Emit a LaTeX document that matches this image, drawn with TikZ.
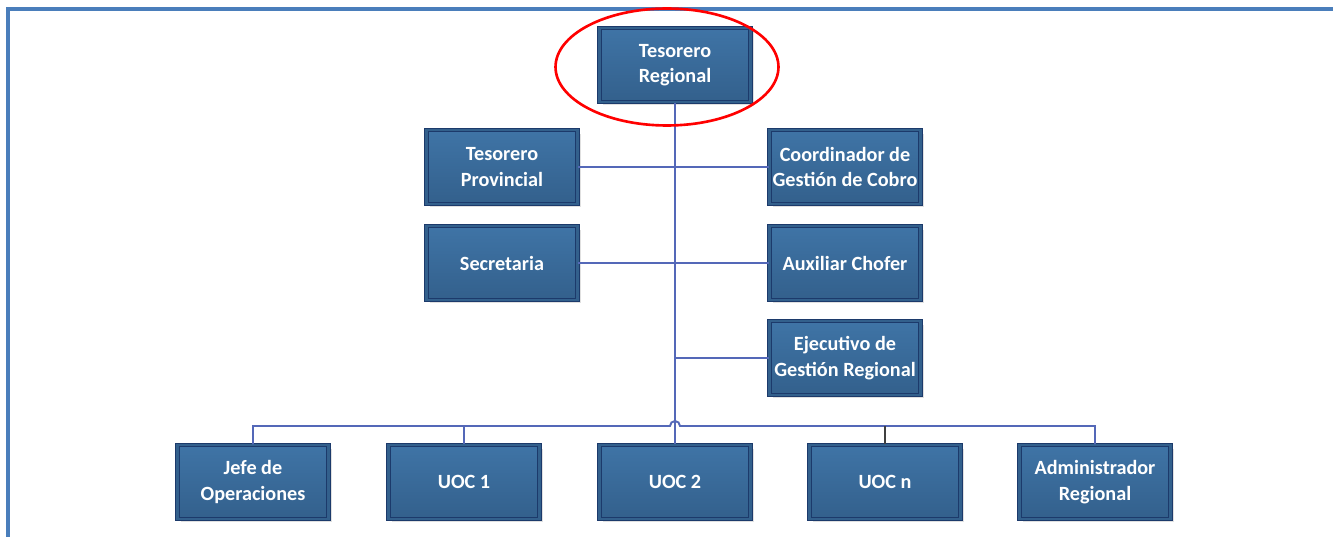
\documentclass[tikz,border=0pt]{standalone}
\usepackage{fontspec}
\setmainfont{Carlito}
\usetikzlibrary{shapes.geometric,shadows}
\definecolor{boxtop}{HTML}{3F74A6}
\definecolor{boxbot}{HTML}{33608C}
\definecolor{boxedge}{HTML}{1C3A6B}
\definecolor{linkblue}{HTML}{5468B8}
\definecolor{framecol}{HTML}{4A7EBB}
\begin{document}
\begin{tikzpicture}[x=0.02cm,y=-0.02cm,
  post/.style={draw=boxedge,line width=0.6pt,double=boxbot,double distance=1.6pt,
    top color=boxtop,bottom color=boxbot,minimum width=3.02cm,minimum height=1.48cm,
    inner xsep=1pt,align=center,text=white,font=\bfseries\fontsize{11.5}{14.5}\selectfont,
    drop shadow={shadow xshift=0.07cm,shadow yshift=-0.07cm,fill=black!12,opacity=1}},
  link/.style={draw=linkblue,line width=1.1pt}]
\useasboundingbox (0,0) rectangle (1333,537);
%frame:
\draw[draw=framecol,line width=2.2pt] (8,537) |- (1333,9);

\node (treg) at (675,65) [post] {Tesorero\\Regional};
\node (tprov) at (502,167) [post] {Tesorero\\Provincial};
\node (coord) at (845,167) [post] {Coordinador de\\Gestión de Cobro};
\node (secr) at (502,263) [post] {Secretaria};
\node (aux) at (845,263) [post] {Auxiliar Chofer};
\node (ejec) at (845,358) [post] {Ejecutivo de\\Gestión Regional};

\node (jefe) at (253,482) [post] {Jefe de\\Operaciones};
\node (uoc1) at (464,482) [post] {UOC 1};
\node (uoc2) at (675,482) [post] {UOC 2};
\node (uocn) at (885,482) [post] {UOC n};
\node (admin) at (1095,482) [post] {Administrador\\Regional};

\coordinate (bus) at (675,426);

%links:
\begin{scope}[on background layer/.try]
\draw[link] (treg.south) -- (uoc2.north);
\draw[link] (tprov.east) -- (coord.west);
\draw[link] (secr.east) -- (aux.west);
\draw[link] (ejec.west) -- (ejec.west -| treg.south);
\draw[link] (jefe.north) |- ([xshift=-0.1cm]bus) arc[start angle=180,end angle=0,radius=0.1cm] -| (admin.north);
\draw[link] (uoc1.north) -- (uoc1.north |- bus);
\draw[draw=black!75,line width=1.1pt] (uocn.north) -- (uocn.north |- bus);
\end{scope}

\node (ring) at (667,67) [draw=red,line width=1.5pt,ellipse,minimum width=4.46cm,minimum height=2.34cm] {};
\end{tikzpicture}
\end{document}
